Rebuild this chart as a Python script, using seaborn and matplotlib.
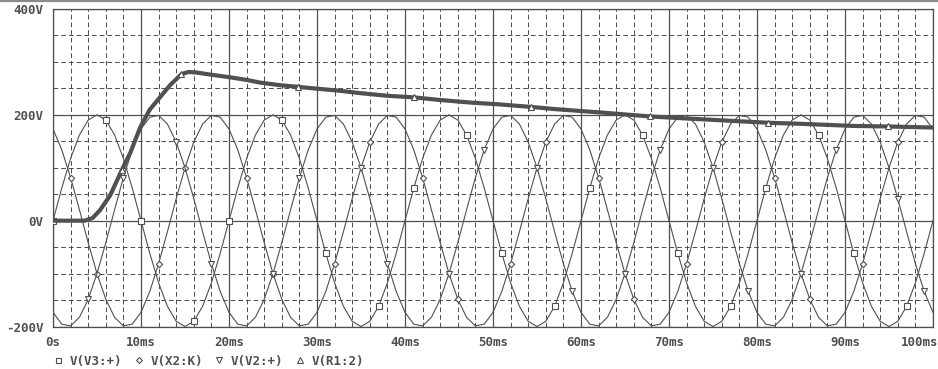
import matplotlib
matplotlib.use("Agg")
import matplotlib.pyplot as plt
from matplotlib.lines import Line2D
from matplotlib.transforms import ScaledTranslation
import numpy as np
import pandas as pd
import seaborn as sns

# ---------------- data ----------------
TIME_MS = list(range(0, 101))  # simulation samples, 1 ms apart

V3_V = [
    0.0, 61.8, 117.6, 161.8, 190.2, 200.0, 190.2, 161.8, 117.6, 61.8, 0.0, -61.8, -117.6, -161.8, -190.2, -200.0, -190.2, -161.8, -117.6, -61.8,
    0.0, 61.8, 117.6, 161.8, 190.2, 200.0, 190.2, 161.8, 117.6, 61.8, 0.0, -61.8, -117.6, -161.8, -190.2, -200.0, -190.2, -161.8, -117.6, -61.8,
    0.0, 61.8, 117.6, 161.8, 190.2, 200.0, 190.2, 161.8, 117.6, 61.8, 0.0, -61.8, -117.6, -161.8, -190.2, -200.0, -190.2, -161.8, -117.6, -61.8,
    0.0, 61.8, 117.6, 161.8, 190.2, 200.0, 190.2, 161.8, 117.6, 61.8, 0.0, -61.8, -117.6, -161.8, -190.2, -200.0, -190.2, -161.8, -117.6, -61.8,
    0.0, 61.8, 117.6, 161.8, 190.2, 200.0, 190.2, 161.8, 117.6, 61.8, 0.0, -61.8, -117.6, -161.8, -190.2, -200.0, -190.2, -161.8, -117.6, -61.8,
    0.0,
]
X2_V = [
    173.2, 133.8, 81.3, 20.9, -41.6, -100.0, -148.6, -182.7, -198.9, -195.6, -173.2, -133.8, -81.3, -20.9, 41.6, 100.0, 148.6, 182.7, 198.9, 195.6,
    173.2, 133.8, 81.3, 20.9, -41.6, -100.0, -148.6, -182.7, -198.9, -195.6, -173.2, -133.8, -81.3, -20.9, 41.6, 100.0, 148.6, 182.7, 198.9, 195.6,
    173.2, 133.8, 81.3, 20.9, -41.6, -100.0, -148.6, -182.7, -198.9, -195.6, -173.2, -133.8, -81.3, -20.9, 41.6, 100.0, 148.6, 182.7, 198.9, 195.6,
    173.2, 133.8, 81.3, 20.9, -41.6, -100.0, -148.6, -182.7, -198.9, -195.6, -173.2, -133.8, -81.3, -20.9, 41.6, 100.0, 148.6, 182.7, 198.9, 195.6,
    173.2, 133.8, 81.3, 20.9, -41.6, -100.0, -148.6, -182.7, -198.9, -195.6, -173.2, -133.8, -81.3, -20.9, 41.6, 100.0, 148.6, 182.7, 198.9, 195.6,
    173.2,
]
V2_V = [
    -173.2, -195.6, -198.9, -182.7, -148.6, -100.0, -41.6, 20.9, 81.3, 133.8, 173.2, 195.6, 198.9, 182.7, 148.6, 100.0, 41.6, -20.9, -81.3, -133.8,
    -173.2, -195.6, -198.9, -182.7, -148.6, -100.0, -41.6, 20.9, 81.3, 133.8, 173.2, 195.6, 198.9, 182.7, 148.6, 100.0, 41.6, -20.9, -81.3, -133.8,
    -173.2, -195.6, -198.9, -182.7, -148.6, -100.0, -41.6, 20.9, 81.3, 133.8, 173.2, 195.6, 198.9, 182.7, 148.6, 100.0, 41.6, -20.9, -81.3, -133.8,
    -173.2, -195.6, -198.9, -182.7, -148.6, -100.0, -41.6, 20.9, 81.3, 133.8, 173.2, 195.6, 198.9, 182.7, 148.6, 100.0, 41.6, -20.9, -81.3, -133.8,
    -173.2, -195.6, -198.9, -182.7, -148.6, -100.0, -41.6, 20.9, 81.3, 133.8, 173.2, 195.6, 198.9, 182.7, 148.6, 100.0, 41.6, -20.9, -81.3, -133.8,
    -173.2,
]

R1_T_MS = [0, 3.6, 4.5, 5.35, 6.5, 7.8, 8.8, 9.9, 11.0, 12.2, 13.3, 14.6, 15.4, 16.3,
           17.9, 20.1, 22.0, 23.5, 25.8, 27.8, 29.6, 32.3, 34.9, 38.0, 41.0, 44.0,
           47.6, 50.5, 54.3, 56.9, 62.6, 67.8, 72.1, 77.8, 81.3, 85.0, 88.0, 91.0,
           94.9, 100.0]
R1_V = [0, 0, 5, 20, 48, 95, 129, 176, 210, 234, 256, 277, 281, 280,
        276, 271, 266, 261, 256, 253, 250, 246, 241, 236, 233, 228,
        223, 220, 215, 211, 204, 197, 193, 188, 185, 183, 181, 179,
        178, 176]

X_TICKS_MS = [0, 10, 20, 30, 40, 50, 60, 70, 80, 90, 100]
X_TICK_LABELS = ["0s", "10ms", "20ms", "30ms", "40ms", "50ms", "60ms",
                 "70ms", "80ms", "90ms", "100ms"]
Y_TICKS_V = [-200, 0, 200, 400]
Y_TICK_LABELS = ["-200V", "0V", "200V", "400V"]
SERIES_LABELS = ["V(V3:+)", "V(X2:K)", "V(V2:+)", "V(R1:2)"]

# indices of the samples that carry the trace markers
V3_MARKS = [0, 6, 10, 16, 20, 26, 31, 37, 41, 47, 51, 57, 61, 67, 71, 77, 81, 87, 91, 97]
X2_MARKS = [2, 5, 12, 15, 22, 25, 32, 36, 42, 46, 52, 56, 62, 66, 72, 76, 82, 86, 92, 96]
V2_MARKS = [4, 8, 14, 18, 25, 28, 35, 38, 45, 49, 55, 59, 65, 69, 75, 79, 85, 89, 96, 99]
R1_MARKS = [5, 11, 19, 24, 28, 31, 34, 38]

# ---------------- style ----------------
sns.set_style("white")
plt.rcParams["font.family"] = ["DejaVu Sans Mono", "DejaVu Sans"]
INK = "#505050"
FAMILY = ["DejaVu Sans Mono", "DejaVu Sans"]
FSIZE = 9

W, H = 938, 369
fig = plt.figure(figsize=(W / 100, H / 100), dpi=100)
ax = fig.add_axes([53 / W, 42.5 / H, 880 / W, 317.5 / H])

sines = pd.DataFrame({"t": TIME_MS, "V3": V3_V, "X2": X2_V, "V2": V2_V})
r1 = pd.DataFrame({"t": R1_T_MS, "V": R1_V})

common = dict(color=INK, lw=0.8, mfc="white", mec=INK, mew=0.8, ms=3.8, zorder=3)
sns.lineplot(data=sines, x="t", y="V3", ax=ax, marker="s", markevery=V3_MARKS, **common)
sns.lineplot(data=sines, x="t", y="X2", ax=ax, marker="D", markevery=X2_MARKS,
             **{**common, "ms": 3.2})
sns.lineplot(data=sines, x="t", y="V2", ax=ax, marker="v", markevery=V2_MARKS, **common)
sns.lineplot(data=r1, x="t", y="V", ax=ax, color=INK, lw=3.0, marker="^",
             markevery=R1_MARKS, mfc="white", mec=INK, mew=0.8, ms=4.2, zorder=4)

ax.set_xlim(0, 100)
ax.set_ylim(-200, 400)
ax.set_xlabel("")
ax.set_ylabel("")

ax.set_xticks(X_TICKS_MS)
ax.set_xticklabels(X_TICK_LABELS)
ax.set_yticks(Y_TICKS_V)
ax.set_yticklabels(Y_TICK_LABELS)
ax.set_xticks(np.arange(0, 101, 2), minor=True)
ax.set_yticks(np.arange(-200, 401, 50), minor=True)

ax.grid(which="major", color=INK, lw=0.9, ls="-")
ax.grid(which="minor", color=INK, lw=0.72, ls=(0, (4.7, 3.0)))
ax.set_axisbelow(True)

ax.tick_params(which="major", direction="out", length=4, width=0.9, color=INK, pad=3)
ax.tick_params(which="minor", length=0)
for lab in ax.get_xticklabels() + ax.get_yticklabels():
    lab.set_fontfamily(FAMILY)
    lab.set_fontweight("bold")
    lab.set_fontsize(FSIZE)
    lab.set_color(INK)

# last x label is pulled left so it stays inside the picture
last = ax.xaxis.get_major_ticks()[-1].label1
last.set_horizontalalignment("right")
last.set_transform(last.get_transform() + ScaledTranslation(5 / 100, 0, fig.dpi_scale_trans))

for s in ax.spines.values():
    s.set_color(INK)
    s.set_linewidth(0.9)
    s.set_visible(True)

# legend below the axis
handles = [
    Line2D([], [], ls="none", marker="s", ms=3.6, mfc="white", mec=INK, mew=0.8),
    Line2D([], [], ls="none", marker="D", ms=3.0, mfc="white", mec=INK, mew=0.8),
    Line2D([], [], ls="none", marker="v", ms=3.8, mfc="white", mec=INK, mew=0.8),
    Line2D([], [], ls="none", marker="^", ms=3.8, mfc="white", mec=INK, mew=0.8),
]
leg = ax.legend(handles, SERIES_LABELS, ncol=4, frameon=False,
                loc="center left", bbox_to_anchor=(53.5 / W, 1 - 361 / H),
                bbox_transform=fig.transFigure, handlelength=0.7,
                handletextpad=0.6, columnspacing=0.95, borderpad=0, borderaxespad=0,
                prop=dict(family=FAMILY, weight="bold", size=FSIZE))
for t in leg.get_texts():
    t.set_color(INK)

# window border line along the top of the image
fig.add_artist(Line2D([0, 1], [1 - 1.2 / H, 1 - 1.2 / H], transform=fig.transFigure,
                      color="#8a8a8a", lw=1.6))

fig.savefig("out.png", dpi=100, facecolor="white")
